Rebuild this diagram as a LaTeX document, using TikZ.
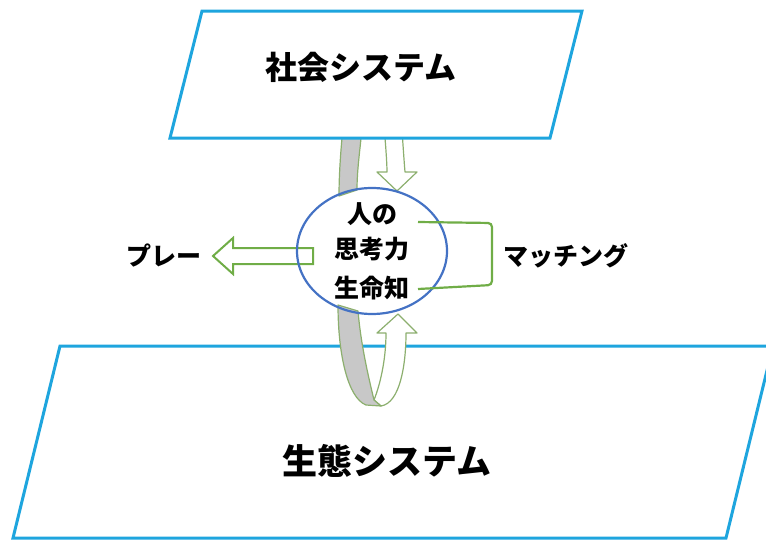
\documentclass[tikz,border=0pt]{standalone}
\usepackage{fontspec}
\newfontfamily\jp{Noto Sans CJK JP}
\usetikzlibrary{positioning,shapes.geometric}

\definecolor{sysblue}{RGB}{30,165,222}
\definecolor{ringblue}{RGB}{68,114,196}
\definecolor{leafgreen}{RGB}{112,173,71}
\definecolor{bandgreen}{RGB}{140,175,110}
\definecolor{bandgrey}{RGB}{200,200,200}

\tikzset{
	system/.style={draw=sysblue, line width=3pt, fill=white, line join=miter},
	band/.style={draw=bandgreen, line width=1.2pt, line join=round},
	blockarrow/.style={draw=leafgreen, line width=2pt, fill=white, line join=miter},
	bigtext/.style={font=\jp\bfseries\fontsize{32}{36}\selectfont},
	midtext/.style={font=\jp\bfseries\fontsize{25}{29}\selectfont},
}

\begin{document}
\begin{tikzpicture}[x=1pt, y=-1pt]
	\useasboundingbox (0, 0) rectangle (766, 541);

	\draw[system] (60, 346) -- (773, 346) -- (726, 538) -- (13, 538) -- cycle;

	% loops through the systems
	\draw[band, fill=bandgrey] (343, 120) -- (342, 138) .. controls (340, 160) and (339, 180) .. (339, 196)
		-- (357, 190) .. controls (357, 170) and (360, 150) .. (361, 138) -- (362, 120) -- cycle;
	\draw[band, fill=white] (385, 120) -- (385, 138) .. controls (386, 150) and (387, 165) .. (387, 172)
		-- (377, 172) -- (397, 191) -- (417, 172) -- (405, 172)
		.. controls (404, 160) and (403, 145) .. (402, 130) -- (402, 120) -- cycle;

	\draw[band, fill=white] (374, 400) .. controls (380, 385) and (386, 360) .. (386, 333)
		-- (377, 333) -- (398, 314) -- (417, 333) -- (406, 333)
		.. controls (406, 365) and (400, 403) .. (381, 406) -- cycle;
	\draw[band, fill=bandgrey] (338, 305) .. controls (338, 355) and (348, 398) .. (366, 405)
		-- (381, 406) -- (374, 400) .. controls (368, 375) and (361, 345) .. (358, 311) -- cycle;

	\draw[system] (202, 11) -- (582, 11) -- (550, 138) -- (170, 138) -- cycle;

	% play arrow
	\draw[blockarrow] (313, 248) -- (233, 248) -- (233, 238) -- (213, 256)
		-- (233, 274) -- (233, 264) -- (313, 264) -- cycle;

	\node[ellipse, draw=ringblue, line width=2.2pt, minimum width=150, minimum height=126, inner sep=0pt] (mind) at (372, 251) {};

	% Labels
	\node[bigtext] (society) at (361, 67) {社会システム};
	\node[bigtext, font=\jp\bfseries\fontsize{35}{40}\selectfont] (ecosystem) at (387, 461) {生態システム};
	\node[midtext] (person) at (372, 214) {人の};
	\node[midtext] (thinking) at (372, 249) {思考力};
	\node[midtext] (lifeknow) at (372, 288) {生命知};
	\node[midtext] (play) at (164, 256) {プレー};
	\node[midtext] (matching) at (566, 256) {マッチング};

	\coordinate (mtop) at (418, 222);
	\coordinate (mbot) at (418, 289);
	\draw[leafgreen, line width=2.2pt, rounded corners=4pt] (mtop) -- (492, 223) -- (492, 285) -- (mbot);
\end{tikzpicture}
\end{document}
